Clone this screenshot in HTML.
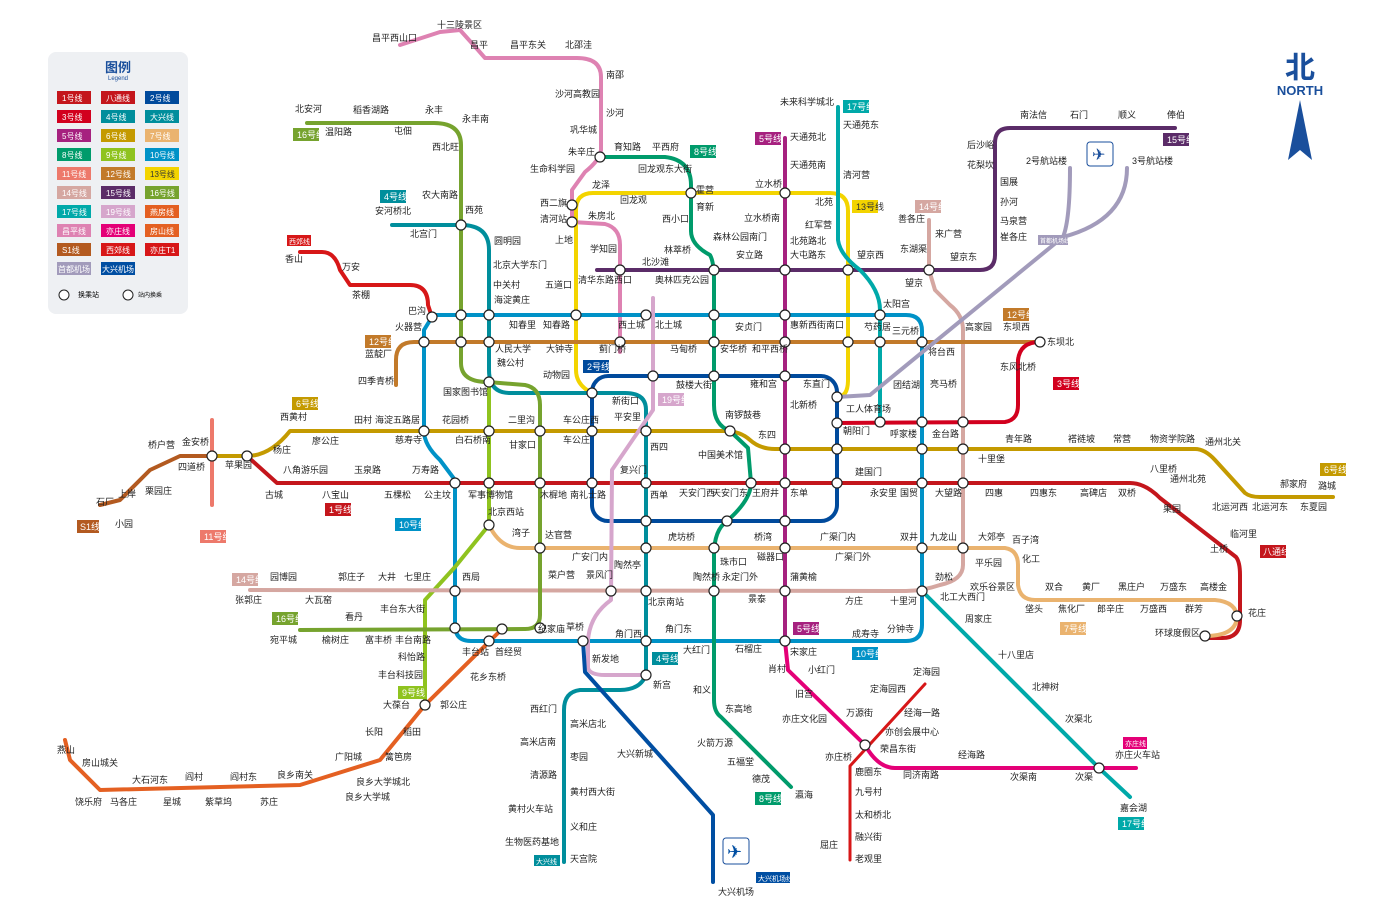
<!DOCTYPE html>
<html><head><meta charset="utf-8">
<style>
html,body{margin:0;padding:0;background:#fff;}
body{width:1400px;height:908px;overflow:hidden;font-family:"Liberation Sans","Noto Sans CJK SC",sans-serif;}
svg text{font-family:"Liberation Sans","Noto Sans CJK SC",sans-serif;}
.s{font-size:9px;fill:#222;}
</style></head><body>
<svg width="1400" height="908" viewBox="0 0 1400 908" xmlns="http://www.w3.org/2000/svg">
<g fill="none" stroke-width="4" stroke-linejoin="round" stroke-linecap="round">
<path stroke="#de82b2" d="M400,45 L440,32 L460,30 L478,50 L485,58 L577,58 Q601,58 601,77 L601,150 Q600,160 585,172 L572,190 L572,222 L605,224 Q620,228 620,245 L620,352"/>
<path stroke="#f3d400" d="M592,393 Q576,385 576,370 L576,210 Q576,193 593,193 L830,193 Q848,193 848,211 L848,380 Q848,397 837,397"/>
<path stroke="#0092c7" d="M432,317 L424,330 L424,431 Q424,445 440,460 L455,480 L455,625 Q455,641 471,641 L906,641 Q922,641 922,625 L922,331 Q922,315 906,315 L432,315"/>
<rect stroke="#004a9c" x="592" y="376" width="245" height="145" rx="16"/>
<path stroke="#c4161c" d="M247,456 L277,483 L1130,483 Q1145,483 1160,498 L1236,557 Q1240,562 1240,575 L1240,620 Q1240,638 1222,638 L1205,638"/>
<path stroke="#c49a00" d="M212,456 L247,456 Q270,456 290,431 L725,431 Q740,431 750,440 Q760,449 775,449 L1195,449 Q1205,449 1215,460 L1245,493 Q1250,497 1260,497 L1333,497"/>
<path stroke="#eab36f" d="M489,525 Q500,548 520,548 L1005,548 Q1018,550 1018,565 L1018,585 Q1020,600 1035,600 L1215,600 Q1237,602 1237,618 Q1235,636 1205,636"/>
<path stroke="#008e9c" d="M392,225 L461,225 Q489,225 489,250 L489,370 Q489,393 510,393 L625,393 Q646,393 646,410 L646,675 Q640,690 620,690 L580,690 Q564,692 564,710 L564,862"/>
<polyline stroke="#a6217f" points="785,138 785,641"/>
<path stroke="#009b6b" d="M600,157 L665,157 Q691,160 691,185 L691,231 Q691,245 710,255 Q714,262 714,280 L714,405 Q714,425 730,431 L748,448 L751,483 Q751,500 727,521 Q714,530 714,555 L714,700 Q714,712 721,717 L791,787"/>
<polyline stroke="#8fc31f" points="489,382 489,525 455,567 425,600 425,705"/>
<path stroke="#5b2c68" d="M597,270 L980,270 Q995,270 995,255 L995,143 Q995,128 1010,128 L1175,128"/>
<path stroke="#d5a7a1" d="M250,590 L906,591 Q922,591 940,585 Q963,580 963,565 L963,330 Q963,315 950,305 L935,290 L929,270 L929,220"/>
<path stroke="#76a32e" d="M307,123 L434,123 Q461,123 461,145 L461,363 Q461,382 488,382 L525,385 Q540,388 540,405 L540,615 Q540,629 525,629 L300,630"/>
<path stroke="#00a9a9" d="M838,107 L838,240 Q840,255 860,270 Q880,290 880,310 L880,423"/>
<polyline stroke="#00a9a9" points="922,591 959,628 1099,768 1130,797"/>
<path stroke="#d6a6cc" d="M653,298 L653,410 L612,470 L611,600 Q590,615 588,640 L588,668 Q590,675 605,675 L646,675"/>
<path stroke="#c27a2a" d="M396,385 L396,360 Q396,342 414,342 L1040,342"/>
<path stroke="#d2001e" d="M835,423 L1005,422 Q1018,420 1018,405 L1018,360 Q1020,342 1040,342"/>
<polyline stroke="#ed796b" points="212,420 212,505"/>
<path stroke="#e40077" d="M785,641 L788,670 L865,745 Q878,768 895,768 L1136,768"/>
<path stroke="#d71718" stroke-width="3" d="M925,684 L850,766 L850,860"/>
<polyline stroke="#e46022" points="502,629 425,705 380,760 300,785 100,790 70,760 65,740"/>
<polyline stroke="#b35a20" points="212,456 180,456 150,470 120,500 100,505"/>
<path stroke="#d71718" d="M300,252 L322,252 Q335,252 340,270 L350,285 L410,285 Q428,285 428,305 L432,317"/>
<path stroke="#004ea2" d="M583,641 L585,672 L713,815 L713,882"/>
<path stroke="#a29bbb" d="M837,397 L870,395 L1063,237 Q1070,220 1070,168"/>
<path stroke="#a29bbb" d="M1063,237 Q1127,220 1127,168"/>
</g>
<g fill="#fff" stroke="#222" stroke-width="1.2">
<circle cx="592" cy="393" r="5"/><circle cx="837" cy="397" r="5"/><circle cx="922" cy="342" r="5"/><circle cx="880" cy="342" r="5"/>
<circle cx="880" cy="315" r="5"/><circle cx="785" cy="315" r="5"/><circle cx="714" cy="315" r="5"/><circle cx="646" cy="315" r="5"/>
<circle cx="576" cy="315" r="5"/><circle cx="489" cy="315" r="5"/><circle cx="461" cy="315" r="5"/><circle cx="432" cy="317" r="5"/>
<circle cx="424" cy="342" r="5"/><circle cx="461" cy="342" r="5"/><circle cx="489" cy="342" r="5"/><circle cx="620" cy="342" r="5"/>
<circle cx="714" cy="342" r="5"/><circle cx="785" cy="342" r="5"/><circle cx="848" cy="342" r="5"/><circle cx="489" cy="382" r="5"/>
<circle cx="653" cy="376" r="5"/><circle cx="714" cy="376" r="5"/><circle cx="785" cy="376" r="5"/><circle cx="646" cy="431" r="5"/>
<circle cx="592" cy="431" r="5"/><circle cx="540" cy="431" r="5"/><circle cx="489" cy="431" r="5"/><circle cx="424" cy="431" r="5"/>
<circle cx="730" cy="431" r="5"/><circle cx="785" cy="449" r="5"/><circle cx="837" cy="449" r="5"/><circle cx="922" cy="449" r="5"/>
<circle cx="963" cy="449" r="5"/><circle cx="963" cy="422" r="5"/><circle cx="922" cy="422" r="5"/><circle cx="880" cy="422" r="5"/>
<circle cx="837" cy="423" r="5"/><circle cx="455" cy="483" r="5"/><circle cx="489" cy="483" r="5"/><circle cx="540" cy="483" r="5"/>
<circle cx="592" cy="483" r="5"/><circle cx="646" cy="483" r="5"/><circle cx="751" cy="483" r="5"/><circle cx="785" cy="483" r="5"/>
<circle cx="837" cy="483" r="5"/><circle cx="922" cy="483" r="5"/><circle cx="963" cy="483" r="5"/><circle cx="646" cy="521" r="5"/>
<circle cx="727" cy="521" r="5"/><circle cx="785" cy="521" r="5"/><circle cx="489" cy="525" r="5"/><circle cx="540" cy="548" r="5"/>
<circle cx="646" cy="548" r="5"/><circle cx="714" cy="548" r="5"/><circle cx="785" cy="548" r="5"/><circle cx="922" cy="548" r="5"/>
<circle cx="963" cy="548" r="5"/><circle cx="455" cy="591" r="5"/><circle cx="611" cy="591" r="5"/><circle cx="646" cy="591" r="5"/><circle cx="714" cy="591" r="5"/>
<circle cx="785" cy="591" r="5"/><circle cx="922" cy="591" r="5"/><circle cx="455" cy="628" r="5"/><circle cx="540" cy="628" r="5"/>
<circle cx="502" cy="629" r="5"/><circle cx="489" cy="641" r="5"/>
<circle cx="583" cy="641" r="5"/><circle cx="646" cy="641" r="5"/><circle cx="785" cy="641" r="5"/><circle cx="646" cy="675" r="5"/>
<circle cx="600" cy="157" r="5"/><circle cx="572" cy="205" r="5"/><circle cx="572" cy="222" r="5"/><circle cx="691" cy="193" r="5"/>
<circle cx="785" cy="193" r="5"/><circle cx="620" cy="270" r="5"/><circle cx="714" cy="270" r="5"/><circle cx="785" cy="270" r="5"/>
<circle cx="848" cy="270" r="5"/><circle cx="929" cy="270" r="5"/><circle cx="461" cy="225" r="5"/><circle cx="247" cy="456" r="5"/>
<circle cx="212" cy="456" r="5"/><circle cx="1040" cy="342" r="5"/><circle cx="425" cy="705" r="5"/>
<circle cx="1237" cy="616" r="5"/><circle cx="1205" cy="636" r="5"/><circle cx="1099" cy="768" r="5"/><circle cx="865" cy="745" r="5"/>
</g>
<rect x="48" y="52" width="140" height="262" rx="8" fill="#eef0f3"/>
<text x="118" y="72" text-anchor="middle" style="font-size:13px;fill:#1a4f9c;font-weight:bold">图例</text>
<text x="118" y="80" text-anchor="middle" style="font-size:6px;fill:#1a4f9c">Legend</text>
<g style="font-size:8px;fill:#fff">
<rect x="57" y="91" width="34" height="13" fill="#c4161c"/><text x="62" y="101">1号线</text>
<rect x="101" y="91" width="34" height="13" fill="#c4161c"/><text x="106" y="101">八通线</text>
<rect x="145" y="91" width="34" height="13" fill="#004a9c"/><text x="150" y="101">2号线</text>
<rect x="57" y="110" width="34" height="13" fill="#d2001e"/><text x="62" y="120">3号线</text>
<rect x="101" y="110" width="34" height="13" fill="#008e9c"/><text x="106" y="120">4号线</text>
<rect x="145" y="110" width="34" height="13" fill="#008e9c"/><text x="150" y="120">大兴线</text>
<rect x="57" y="129" width="34" height="13" fill="#a6217f"/><text x="62" y="139">5号线</text>
<rect x="101" y="129" width="34" height="13" fill="#c49a00"/><text x="106" y="139">6号线</text>
<rect x="145" y="129" width="34" height="13" fill="#eab36f"/><text x="150" y="139">7号线</text>
<rect x="57" y="148" width="34" height="13" fill="#009b6b"/><text x="62" y="158">8号线</text>
<rect x="101" y="148" width="34" height="13" fill="#8fc31f"/><text x="106" y="158">9号线</text>
<rect x="145" y="148" width="34" height="13" fill="#0092c7"/><text x="150" y="158">10号线</text>
<rect x="57" y="167" width="34" height="13" fill="#ed796b"/><text x="62" y="177">11号线</text>
<rect x="101" y="167" width="34" height="13" fill="#c27a2a"/><text x="106" y="177">12号线</text>
<rect x="145" y="167" width="34" height="13" fill="#f3d400"/><text x="150" y="177" fill="#333">13号线</text>
<rect x="57" y="186" width="34" height="13" fill="#d5a7a1"/><text x="62" y="196">14号线</text>
<rect x="101" y="186" width="34" height="13" fill="#5b2c68"/><text x="106" y="196">15号线</text>
<rect x="145" y="186" width="34" height="13" fill="#76a32e"/><text x="150" y="196">16号线</text>
<rect x="57" y="205" width="34" height="13" fill="#00a9a9"/><text x="62" y="215">17号线</text>
<rect x="101" y="205" width="34" height="13" fill="#d6a6cc"/><text x="106" y="215">19号线</text>
<rect x="145" y="205" width="34" height="13" fill="#e46022"/><text x="150" y="215">燕房线</text>
<rect x="57" y="224" width="34" height="13" fill="#de82b2"/><text x="62" y="234">昌平线</text>
<rect x="101" y="224" width="34" height="13" fill="#e40077"/><text x="106" y="234">亦庄线</text>
<rect x="145" y="224" width="34" height="13" fill="#e46022"/><text x="150" y="234">房山线</text>
<rect x="57" y="243" width="34" height="13" fill="#b35a20"/><text x="62" y="253">S1线</text>
<rect x="101" y="243" width="34" height="13" fill="#d71718"/><text x="106" y="253">西郊线</text>
<rect x="145" y="243" width="34" height="13" fill="#d71718"/><text x="150" y="253">亦庄T1</text>
<rect x="57" y="262" width="34" height="13" fill="#a29bbb"/><text x="58" y="272">首都机场</text>
<rect x="101" y="262" width="34" height="13" fill="#004ea2"/><text x="102" y="272">大兴机场</text>
</g>
<circle cx="64" cy="295" r="5" fill="#fff" stroke="#222"/><text x="78" y="297" style="font-size:7px">换乘站</text>
<circle cx="128" cy="295" r="5" fill="#fff" stroke="#222"/><text x="138" y="297" style="font-size:6px">站内换乘</text>
<text x="1300" y="78" text-anchor="middle" style="font-size:30px;fill:#1a4f9c;font-weight:bold">北</text>
<text x="1300" y="95" text-anchor="middle" style="font-size:13px;fill:#1a4f9c;font-weight:bold">NORTH</text>
<polygon points="1300,100 1288,160 1300,150 1312,160" fill="#1a4f9c"/>
<g style="font-size:9px;fill:#fff">
<rect x="292" y="397" width="26" height="13" fill="#c49a00"/><text x="296" y="407">6号线</text>
<rect x="293" y="128" width="26" height="13" fill="#76a32e"/><text x="297" y="138">16号线</text>
<rect x="380" y="190" width="26" height="13" fill="#008e9c"/><text x="384" y="200">4号线</text>
<rect x="365" y="335" width="26" height="13" fill="#c27a2a"/><text x="369" y="345">12号线</text>
<rect x="583" y="360" width="26" height="13" fill="#004a9c"/><text x="587" y="370">2号线</text>
<rect x="658" y="393" width="26" height="13" fill="#d6a6cc"/><text x="662" y="403">19号线</text>
<rect x="690" y="145" width="26" height="13" fill="#009b6b"/><text x="694" y="155">8号线</text>
<rect x="755" y="132" width="26" height="13" fill="#a6217f"/><text x="759" y="142">5号线</text>
<rect x="843" y="100" width="26" height="13" fill="#00a9a9"/><text x="847" y="110">17号线</text>
<rect x="852" y="200" width="26" height="13" fill="#f3d400"/><text x="856" y="210" fill="#333">13号线</text>
<rect x="915" y="200" width="26" height="13" fill="#d5a7a1"/><text x="919" y="210">14号线</text>
<rect x="1163" y="133" width="26" height="13" fill="#5b2c68"/><text x="1167" y="143">15号线</text>
<rect x="1003" y="308" width="26" height="13" fill="#c27a2a"/><text x="1007" y="318">12号线</text>
<rect x="1053" y="377" width="26" height="13" fill="#d2001e"/><text x="1057" y="387">3号线</text>
<rect x="1320" y="463" width="26" height="13" fill="#c49a00"/><text x="1324" y="473">6号线</text>
<rect x="325" y="503" width="26" height="13" fill="#c4161c"/><text x="329" y="513">1号线</text>
<rect x="793" y="622" width="26" height="13" fill="#a6217f"/><text x="797" y="632">5号线</text>
<rect x="852" y="647" width="26" height="13" fill="#0092c7"/><text x="856" y="657">10号线</text>
<rect x="652" y="652" width="26" height="13" fill="#008e9c"/><text x="656" y="662">4号线</text>
<rect x="755" y="792" width="26" height="13" fill="#009b6b"/><text x="759" y="802">8号线</text>
<rect x="1118" y="817" width="26" height="13" fill="#00a9a9"/><text x="1122" y="827">17号线</text>
<rect x="1060" y="622" width="26" height="13" fill="#eab36f"/><text x="1064" y="632">7号线</text>
<rect x="1260" y="545" width="26" height="13" fill="#c4161c"/><text x="1263" y="555">八通线</text>
<rect x="1123" y="737" width="24" height="12" fill="#e40077"/><text x="1125" y="746" style="font-size:7px">亦庄线</text>
<rect x="232" y="573" width="26" height="13" fill="#d5a7a1"/><text x="236" y="583">14号线</text>
<rect x="272" y="612" width="26" height="13" fill="#76a32e"/><text x="276" y="622">16号线</text>
<rect x="395" y="518" width="26" height="13" fill="#0092c7"/><text x="399" y="528">10号线</text>
<rect x="398" y="686" width="26" height="13" fill="#8fc31f"/><text x="402" y="696">9号线</text>
<rect x="77" y="520" width="22" height="13" fill="#b35a20"/><text x="80" y="530">S1线</text>
<rect x="200" y="530" width="26" height="13" fill="#ed796b"/><text x="204" y="540">11号线</text>
<rect x="287" y="235" width="24" height="11" fill="#d71718"/><text x="289" y="244" style="font-size:7px">西郊线</text>
<rect x="1038" y="235" width="30" height="10" fill="#a29bbb"/><text x="1040" y="243" style="font-size:6px">首都机场线</text>
<rect x="534" y="855" width="26" height="11" fill="#008e9c"/><text x="536" y="864" style="font-size:7px">大兴线</text>
<rect x="756" y="872" width="34" height="11" fill="#004ea2"/><text x="758" y="881" style="font-size:7px">大兴机场线</text>
</g>
<g class="s">
<text x="437" y="28">十三陵景区</text><text x="372" y="41">昌平西山口</text><text x="470" y="48">昌平</text><text x="510" y="48">昌平东关</text><text x="565" y="48">北邵洼</text>
<text x="606" y="78">南邵</text><text x="555" y="97">沙河高教园</text><text x="606" y="116">沙河</text><text x="570" y="133">巩华城</text>
<text x="568" y="155">朱辛庄</text><text x="614" y="150">育知路</text><text x="652" y="150">平西府</text><text x="696" y="193">霍营</text>
<text x="530" y="172">生命科学园</text><text x="592" y="188">龙泽</text><text x="620" y="203">回龙观</text><text x="638" y="172">回龙观东大街</text>
<text x="540" y="206">西二旗</text><text x="540" y="222">清河站</text><text x="588" y="219">朱房北</text><text x="555" y="243">上地</text>
<text x="590" y="252">学知园</text><text x="662" y="222">西小口</text><text x="664" y="253">林萃桥</text><text x="642" y="265">北沙滩</text>
<text x="696" y="210">育新</text><text x="744" y="221">立水桥南</text><text x="755" y="187">立水桥</text><text x="815" y="205">北苑</text>
<text x="780" y="105">未来科学城北</text><text x="790" y="140">天通苑北</text><text x="790" y="168">天通苑南</text><text x="843" y="128">天通苑东</text>
<text x="843" y="178">清河营</text><text x="805" y="228">红军营</text><text x="790" y="244">北苑路北</text><text x="790" y="258">大屯路东</text>
<text x="713" y="240">森林公园南门</text><text x="736" y="258">安立路</text><text x="655" y="283">奥林匹克公园</text><text x="578" y="283">清华东路西口</text>
<text x="857" y="258">望京西</text><text x="905" y="286">望京</text><text x="950" y="260">望京东</text><text x="898" y="222">善各庄</text>
<text x="935" y="237">来广营</text><text x="900" y="252">东湖渠</text><text x="1000" y="224">马泉营</text><text x="1000" y="240">崔各庄</text>
<text x="1000" y="185">国展</text><text x="1000" y="205">孙河</text><text x="967" y="168">花梨坎</text><text x="967" y="148">后沙峪</text>
<text x="1020" y="118">南法信</text><text x="1070" y="118">石门</text><text x="1118" y="118">顺义</text><text x="1167" y="118">俸伯</text>
<text x="1026" y="164">2号航站楼</text><text x="1132" y="164">3号航站楼</text>
<text x="295" y="112">北安河</text><text x="325" y="135">温阳路</text><text x="353" y="113">稻香湖路</text><text x="394" y="134">屯佃</text>
<text x="425" y="113">永丰</text><text x="462" y="122">永丰南</text><text x="432" y="150">西北旺</text><text x="422" y="198">农大南路</text>
<text x="375" y="214">安河桥北</text><text x="410" y="237">北宫门</text><text x="465" y="213">西苑</text><text x="494" y="244">圆明园</text>
<text x="493" y="268">北京大学东门</text><text x="493" y="288">中关村</text><text x="494" y="303">海淀黄庄</text><text x="545" y="288">五道口</text>
<text x="285" y="262">香山</text><text x="342" y="270">万安</text><text x="352" y="298">茶棚</text><text x="408" y="314">巴沟</text>
<text x="395" y="330">火器营</text><text x="365" y="357">蓝靛厂</text><text x="358" y="384">四季青桥</text><text x="509" y="328">知春里</text>
<text x="543" y="328">知春路</text><text x="618" y="328">西土城</text><text x="655" y="328">北土城</text><text x="735" y="330">安贞门</text>
<text x="790" y="328">惠新西街南口</text><text x="864" y="330">芍药居</text><text x="883" y="307">太阳宫</text><text x="892" y="334">三元桥</text>
<text x="928" y="355">将台西</text><text x="965" y="330">高家园</text><text x="1003" y="330">东坝西</text><text x="1047" y="345">东坝北</text>
<text x="495" y="352">人民大学</text><text x="497" y="366">魏公村</text><text x="546" y="352">大钟寺</text><text x="543" y="378">动物园</text>
<text x="443" y="395">国家图书馆</text><text x="599" y="352">蓟门桥</text><text x="670" y="352">马甸桥</text><text x="720" y="352">安华桥</text>
<text x="752" y="352">和平西桥</text><text x="676" y="388">鼓楼大街</text><text x="750" y="387">雍和宫</text><text x="803" y="387">东直门</text>
<text x="612" y="404">新街口</text><text x="614" y="420">平安里</text><text x="725" y="418">南锣鼓巷</text><text x="790" y="408">北新桥</text>
<text x="846" y="412">工人体育场</text><text x="893" y="388">团结湖</text><text x="930" y="387">亮马桥</text><text x="1000" y="370">东风北桥</text>
<text x="280" y="420">西黄村</text><text x="182" y="445">金安桥</text><text x="148" y="448">桥户营</text><text x="273" y="453">杨庄</text>
<text x="312" y="444">廖公庄</text><text x="354" y="423">田村</text><text x="375" y="423">海淀五路居</text><text x="395" y="443">慈寿寺</text>
<text x="442" y="423">花园桥</text><text x="455" y="443">白石桥南</text><text x="508" y="423">二里沟</text><text x="509" y="448">甘家口</text>
<text x="563" y="423">车公庄西</text><text x="563" y="443">车公庄</text><text x="650" y="450">西四</text><text x="698" y="458">中国美术馆</text>
<text x="758" y="438">东四</text><text x="843" y="434">朝阳门</text><text x="890" y="437">呼家楼</text><text x="932" y="437">金台路</text>
<text x="978" y="462">十里堡</text><text x="1005" y="442">青年路</text><text x="1068" y="442">褡裢坡</text><text x="1113" y="442">常营</text>
<text x="1150" y="442">物资学院路</text><text x="1205" y="445">通州北关</text><text x="1280" y="487">郝家府</text><text x="1318" y="489">潞城</text>
<text x="96" y="505">石厂</text><text x="115" y="527">小园</text><text x="118" y="497">上岸</text><text x="145" y="494">栗园庄</text>
<text x="178" y="470">四道桥</text><text x="225" y="468">苹果园</text><text x="265" y="498">古城</text><text x="283" y="473">八角游乐园</text>
<text x="322" y="498">八宝山</text><text x="354" y="473">玉泉路</text><text x="384" y="498">五棵松</text><text x="412" y="473">万寿路</text>
<text x="424" y="498">公主坟</text><text x="468" y="498">军事博物馆</text><text x="540" y="498">木樨地</text><text x="570" y="498">南礼士路</text>
<text x="620" y="473">复兴门</text><text x="650" y="498">西单</text><text x="679" y="496">天安门西</text><text x="712" y="496">天安门东</text>
<text x="752" y="496">王府井</text><text x="790" y="496">东单</text><text x="855" y="475">建国门</text><text x="870" y="496">永安里</text>
<text x="900" y="496">国贸</text><text x="935" y="496">大望路</text><text x="985" y="496">四惠</text><text x="1030" y="496">四惠东</text>
<text x="1080" y="496">高碑店</text><text x="1118" y="496">双桥</text><text x="1150" y="472">八里桥</text><text x="1170" y="482">通州北苑</text>
<text x="1212" y="510">北运河西</text><text x="1252" y="510">北运河东</text><text x="1300" y="510">东夏园</text><text x="1230" y="537">临河里</text>
<text x="1210" y="552">土桥</text><text x="1248" y="616">花庄</text><text x="1155" y="636">环球度假区</text><text x="1163" y="512">果园</text>
<text x="488" y="515">北京西站</text><text x="512" y="536">湾子</text><text x="545" y="538">达官营</text><text x="572" y="560">广安门内</text>
<text x="668" y="540">虎坊桥</text><text x="720" y="565">珠市口</text><text x="754" y="540">桥湾</text><text x="757" y="560">磁器口</text>
<text x="820" y="540">广渠门内</text><text x="835" y="560">广渠门外</text><text x="900" y="540">双井</text><text x="930" y="540">九龙山</text>
<text x="978" y="540">大郊亭</text><text x="1012" y="543">百子湾</text><text x="1022" y="562">化工</text><text x="970" y="590">欢乐谷景区</text>
<text x="1025" y="612">垡头</text><text x="1045" y="590">双合</text><text x="1058" y="612">焦化厂</text><text x="1082" y="590">黄厂</text>
<text x="1097" y="612">郎辛庄</text><text x="1118" y="590">黑庄户</text><text x="1160" y="590">万盛东</text><text x="1140" y="612">万盛西</text>
<text x="1185" y="612">群芳</text><text x="1200" y="590">高楼金</text>
<text x="270" y="580">园博园</text><text x="338" y="580">郭庄子</text><text x="378" y="580">大井</text><text x="404" y="580">七里庄</text>
<text x="462" y="580">西局</text><text x="235" y="603">张郭庄</text><text x="305" y="603">大瓦窑</text><text x="548" y="578">菜户营</text>
<text x="586" y="578">景风门</text><text x="614" y="568">陶然亭</text><text x="648" y="605">北京南站</text><text x="693" y="580">陶然桥</text>
<text x="722" y="580">永定门外</text><text x="748" y="602">景泰</text><text x="790" y="580">蒲黄榆</text><text x="845" y="604">方庄</text>
<text x="890" y="604">十里河</text><text x="940" y="600">北工大西门</text><text x="975" y="566">平乐园</text><text x="935" y="580">劲松</text>
<text x="270" y="643">宛平城</text><text x="322" y="643">榆树庄</text><text x="345" y="620">看丹</text><text x="365" y="643">富丰桥</text>
<text x="380" y="612">丰台东大街</text><text x="395" y="643">丰台南路</text><text x="398" y="660">科怡路</text><text x="378" y="678">丰台科技园</text>
<text x="440" y="708">郭公庄</text><text x="495" y="655">首经贸</text><text x="538" y="632">纪家庙</text><text x="566" y="630">草桥</text>
<text x="615" y="637">角门西</text><text x="665" y="632">角门东</text><text x="683" y="653">大红门</text><text x="735" y="652">石榴庄</text>
<text x="790" y="655">宋家庄</text><text x="852" y="637">成寿寺</text><text x="887" y="632">分钟寺</text>
<text x="592" y="662">新发地</text><text x="653" y="688">新宫</text><text x="462" y="655">丰台站</text><text x="470" y="680">花乡东桥</text>
<text x="383" y="708">大葆台</text><text x="365" y="735">长阳</text><text x="403" y="735">稻田</text>
<text x="335" y="760">广阳城</text><text x="385" y="760">篱笆房</text><text x="356" y="785">良乡大学城北</text><text x="345" y="800">良乡大学城</text>
<text x="277" y="778">良乡南关</text><text x="230" y="780">阎村东</text><text x="260" y="805">苏庄</text><text x="205" y="805">紫草坞</text>
<text x="185" y="780">阎村</text><text x="132" y="783">大石河东</text><text x="163" y="805">星城</text><text x="110" y="805">马各庄</text>
<text x="75" y="805">饶乐府</text><text x="82" y="766">房山城关</text><text x="57" y="753">燕山</text>
<text x="530" y="712">西红门</text><text x="570" y="727">高米店北</text><text x="520" y="745">高米店南</text><text x="570" y="760">枣园</text><text x="530" y="778">清源路</text>
<text x="570" y="795">黄村西大街</text><text x="508" y="812">黄村火车站</text><text x="570" y="830">义和庄</text><text x="505" y="845">生物医药基地</text>
<text x="570" y="862">天宫院</text><text x="617" y="757">大兴新城</text><text x="697" y="746">火箭万源</text><text x="727" y="765">五福堂</text>
<text x="752" y="782">德茂</text><text x="795" y="798">瀛海</text><text x="725" y="712">东高地</text><text x="693" y="693">和义</text>
<text x="718" y="895">大兴机场</text><text x="795" y="697">旧宫</text><text x="808" y="673">小红门</text><text x="768" y="672">肖村</text>
<text x="782" y="722">亦庄文化园</text><text x="846" y="716">万源街</text><text x="825" y="760">亦庄桥</text><text x="880" y="752">荣昌东街</text>
<text x="904" y="716">经海一路</text><text x="958" y="758">经海路</text><text x="1010" y="780">次渠南</text><text x="1075" y="780">次渠</text>
<text x="1115" y="758">亦庄火车站</text><text x="1120" y="811">嘉会湖</text><text x="1065" y="722">次渠北</text>
<text x="1032" y="690">北神树</text><text x="998" y="658">十八里店</text><text x="965" y="622">周家庄</text>
<text x="913" y="675">定海园</text><text x="870" y="692">定海园西</text><text x="855" y="775">鹿圈东</text><text x="855" y="795">九号村</text>
<text x="855" y="818">太和桥北</text><text x="855" y="840">融兴街</text><text x="855" y="862">老观里</text><text x="820" y="848">屈庄</text>
<text x="903" y="778">同济南路</text><text x="885" y="735">亦创会展中心</text>
</g>
<rect x="1087" y="142" width="26" height="24" rx="3" fill="#fff" stroke="#1a4f9c"/>
<g style="font-size:16px;fill:#1a4f9c"><text x="1092" y="160">✈</text></g>
<rect x="723" y="838" width="26" height="26" rx="3" fill="#fff" stroke="#1a4f9c"/>
<g style="font-size:18px;fill:#004ea2"><text x="727" y="858">✈</text></g>
</svg>
</body></html>
